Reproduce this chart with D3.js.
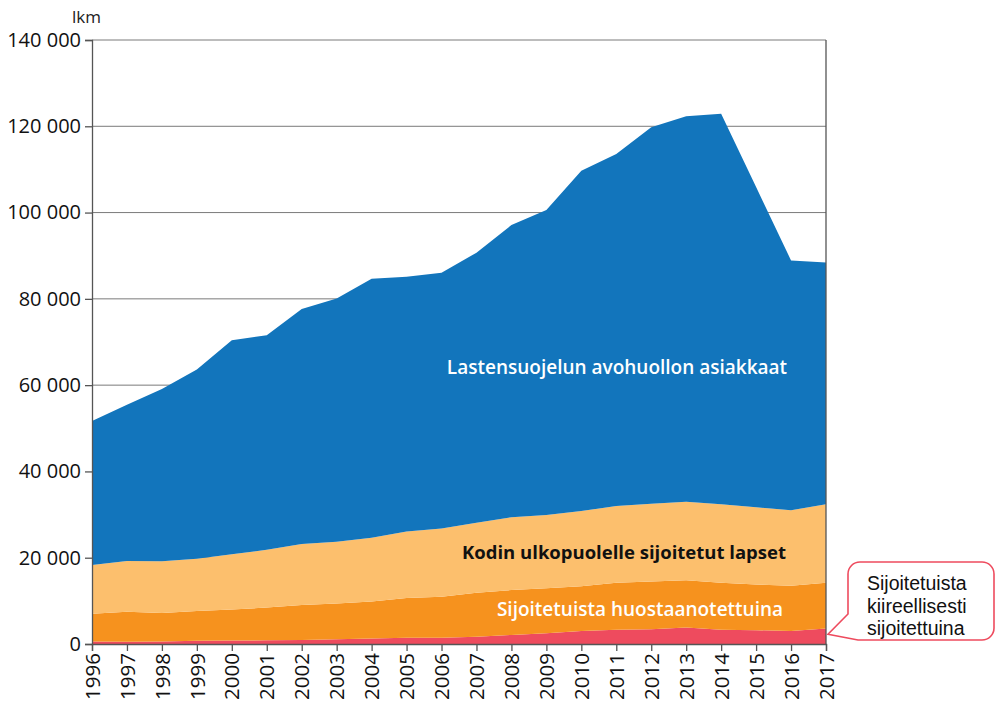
<!DOCTYPE html>
<html>
<head>
<meta charset="utf-8">
<script src="https://cdn.jsdelivr.net/npm/d3@7"></script>
<style>
  body { margin: 0; background: #fff; }
  svg { font-family: "Open Sans", sans-serif; }
</style>
</head>
<body>
<div id="chart"></div>
<script>
// Data, one value per year, stacked bottom to top
const years = d3.range(1996, 2018);
const kiireellisesti = [600, 550, 600, 750, 800, 850, 950, 1100, 1250, 1450, 1450, 1700, 2100, 2500, 3000, 3300, 3400, 3800, 3300, 3200, 3000, 3600];
const huostaanotettuina = [6400, 6900, 6600, 6900, 7200, 7600, 8100, 8300, 8600, 9200, 9500, 10200, 10400, 10400, 10400, 10900, 11100, 11000, 10900, 10600, 10500, 10600];
const kodinUlkopuolelle = [11300, 11800, 12000, 12100, 12800, 13400, 14100, 14300, 14800, 15400, 15800, 16200, 16900, 17000, 17400, 17800, 18000, 18200, 18200, 17900, 17500, 18200];
const avohuolto = [33400, 36200, 39900, 43900, 49600, 49700, 54500, 56400, 60000, 59100, 59300, 62600, 67700, 70700, 78900, 81600, 87300, 89300, 90500, 74200, 57900, 56000];
const yTicks = [0, 20000, 40000, 60000, 80000, 100000, 120000, 140000];

const keys = ["kiire", "huostaan", "kodin", "avo"];
const colors = { kiire: "#ee4b5e", huostaan: "#f6921e", kodin: "#fcbf6d", avo: "#1275bc" };

const table = years.map((y, i) => ({
    year: y,
    kiire: kiireellisesti[i],
    huostaan: huostaanotettuina[i],
    kodin: kodinUlkopuolelle[i],
    avo: avohuolto[i]
}));

const width = 998;
const height = 706;
const margin = { top: 40, right: 172, bottom: 62, left: 92 };

const svg = d3.select("#chart")
    .append("svg")
    .attr("width", width)
    .attr("height", height);

const x = d3.scaleLinear()
    .domain([1996, 2017])
    .range([margin.left, width - margin.right]);

const y = d3.scaleLinear()
    .domain([0, 140000])
    .range([height - margin.bottom, margin.top]);

// Gridlines
svg.append("g")
    .selectAll("line")
    .data(yTicks.slice(1))
    .join("line")
    .attr("x1", x(1996))
    .attr("x2", x(2017))
    .attr("y1", d => y(d))
    .attr("y2", d => y(d))
    .attr("stroke", "#7a7a7a")
    .attr("stroke-width", 1);

// Stacked areas
const series = d3.stack().keys(keys)(table);

const area = d3.area()
    .x(d => x(d.data.year))
    .y0(d => y(d[0]))
    .y1(d => y(d[1]));

svg.append("g")
    .selectAll("path")
    .data(series)
    .join("path")
    .attr("fill", d => colors[d.key])
    .attr("d", area);

// Right frame line
svg.append("line")
    .attr("x1", x(2017))
    .attr("x2", x(2017))
    .attr("y1", y(140000))
    .attr("y2", y(0))
    .attr("stroke", "#555")
    .attr("stroke-width", 1.3);

// Y axis, space as thousands separator
const yAxis = d3.axisLeft(y)
    .tickValues(yTicks)
    .tickSize(7)
    .tickPadding(4)
    .tickFormat(d => d3.format(",")(d).replace(/,/g, " "));

const gy = svg.append("g")
    .attr("transform", `translate(${margin.left},0)`)
    .call(yAxis);
gy.select(".domain").attr("stroke", "#555").attr("stroke-width", 1.3);
gy.selectAll(".tick line").attr("stroke", "#555").attr("stroke-width", 1.3);
gy.selectAll("text")
    .attr("font-size", "20px")
    .attr("fill", "#111")
    .attr("font-family", "Open Sans, sans-serif");

// X axis
const xAxis = d3.axisBottom(x)
    .tickValues(years)
    .tickSize(7)
    .tickFormat(d3.format("d"));

const gx = svg.append("g")
    .attr("transform", `translate(0,${y(0)})`)
    .call(xAxis);
gx.select(".domain").attr("stroke", "#555").attr("stroke-width", 1.3);
gx.selectAll(".tick line").attr("stroke", "#555").attr("stroke-width", 1.3);
gx.selectAll("text")
    .attr("font-size", "20.5px")
    .attr("fill", "#111")
    .attr("font-family", "Open Sans, sans-serif")
    .attr("transform", "rotate(-90)")
    .attr("text-anchor", "end")
    .attr("dy", "0.35em")
    .attr("x", -9)
    .attr("y", 0);

// Unit label
svg.append("text")
    .attr("x", 72)
    .attr("y", 23)
    .attr("font-size", "17px")
    .attr("fill", "#222")
    .text("lkm");

// Series labels inside the areas
svg.append("text")
    .attr("x", 617)
    .attr("y", 374)
    .attr("text-anchor", "middle")
    .attr("font-size", "19px")
    .attr("font-weight", 600)
    .attr("fill", "#fff")
    .text("Lastensuojelun avohuollon asiakkaat");

svg.append("text")
    .attr("x", 624)
    .attr("y", 559)
    .attr("text-anchor", "middle")
    .attr("font-size", "18.5px")
    .attr("font-weight", 700)
    .attr("fill", "#111")
    .text("Kodin ulkopuolelle sijoitetut lapset");

svg.append("text")
    .attr("x", 640)
    .attr("y", 616)
    .attr("text-anchor", "middle")
    .attr("font-size", "19px")
    .attr("font-weight", 600)
    .attr("fill", "#fff")
    .text("Sijoitetuista huostaanotettuina");

// Callout for the red band
const tip = [x(2017) + 2, y(kiireellisesti[21] / 2) - 2];
const bx0 = 848, bx1 = 994, by0 = 562, by1 = 640, r = 12;
const callout = d3.path();
callout.moveTo(bx0 + r, by0);
callout.lineTo(bx1 - r, by0);
callout.arcTo(bx1, by0, bx1, by0 + r, r);
callout.lineTo(bx1, by1 - r);
callout.arcTo(bx1, by1, bx1 - r, by1, r);
callout.lineTo(bx0 + 10, by1);
callout.lineTo(tip[0], tip[1]);
callout.lineTo(bx0, by1 - 26);
callout.lineTo(bx0, by0 + r);
callout.arcTo(bx0, by0, bx0 + r, by0, r);
callout.closePath();

svg.append("path")
    .attr("d", callout.toString())
    .attr("fill", "#fff")
    .attr("stroke", "#ee4b5e")
    .attr("stroke-width", 1.6);

const calloutLines = ["Sijoitetuista", "kiireellisesti", "sijoitettuina"];
svg.append("text")
    .attr("x", 867)
    .attr("font-size", "19.5px")
    .attr("font-family", "Liberation Sans, Arial, sans-serif")
    .attr("fill", "#111")
    .selectAll("tspan")
    .data(calloutLines)
    .join("tspan")
    .attr("x", 867)
    .attr("y", (d, i) => 590 + i * 22.5)
    .text(d => d);
</script>
</body>
</html>
